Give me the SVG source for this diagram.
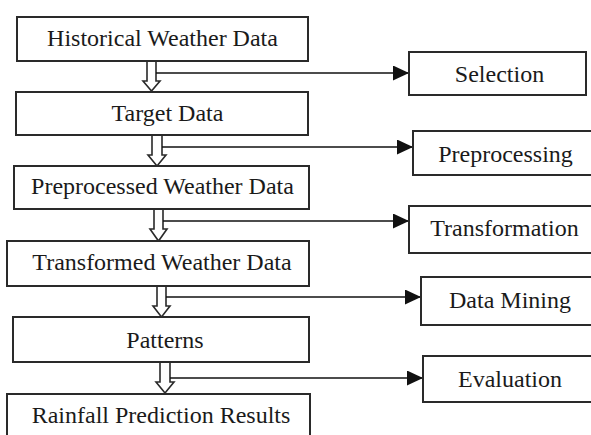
<svg xmlns="http://www.w3.org/2000/svg" width="591" height="435" viewBox="0 0 591 435">
<defs>
<style>
.box{fill:#fff;stroke:#2a2a2a;stroke-width:2}
.t{font-family:'Liberation Serif','DejaVu Serif',serif;font-size:24px;fill:#1a1a1a;text-anchor:middle}
.ln{stroke:#111;stroke-width:1.6;fill:none}
.hol{fill:#fff;stroke:#2a2a2a;stroke-width:1.6;stroke-linejoin:miter}
</style>
<marker id="ah" markerUnits="userSpaceOnUse" markerWidth="17" markerHeight="15" refX="16" refY="7.5" orient="auto">
<path d="M0,0 L16,7.5 L0,15 Z" fill="#111"/>
</marker>
</defs>
<rect width="591" height="435" fill="#fff"/>
<g id="connectors">
<polygon class="hol" points="147,61 156,61 156,81 160,81 151.5,91 143,81 147,81"/>
<polygon class="hol" points="152,135 162,135 162,155 166,155 157,166 148,155 152,155"/>
<polygon class="hol" points="154,209 163,209 163,229 167,229 158.5,241 150,229 154,229"/>
<polygon class="hol" points="157,286 166,286 166,306 170,306 161.5,317 153,306 157,306"/>
<polygon class="hol" points="160,362 170,362 170,382 174,382 165,393 156,382 160,382"/>
<line class="ln" x1="156" y1="73" x2="409" y2="73" marker-end="url(#ah)"/>
<line class="ln" x1="162" y1="147" x2="413" y2="147" marker-end="url(#ah)"/>
<line class="ln" x1="163" y1="221" x2="409" y2="221" marker-end="url(#ah)"/>
<line class="ln" x1="166" y1="297" x2="421" y2="297" marker-end="url(#ah)"/>
<line class="ln" x1="170" y1="378" x2="423" y2="378" marker-end="url(#ah)"/>
</g>
<g id="historical"><rect class="box" x="17" y="17" width="291" height="44"/><text class="t" x="162.5" y="46">Historical Weather Data</text></g>
<g id="target"><rect class="box" x="16" y="92" width="292" height="43"/><text class="t" x="167.5" y="121">Target Data</text></g>
<g id="preprocessed"><rect class="box" x="14" y="166" width="295" height="43"/><text class="t" x="162.5" y="194">Preprocessed Weather Data</text></g>
<g id="transformed"><rect class="box" x="7" y="241" width="302" height="45"/><text class="t" x="162" y="270">Transformed Weather Data</text></g>
<g id="patterns"><rect class="box" x="13" y="317" width="296" height="45"/><text class="t" x="165" y="348">Patterns</text></g>
<g id="rainfall"><rect class="box" x="7" y="394" width="303" height="50"/><text class="t" x="161" y="423">Rainfall Prediction Results</text></g>
<g id="selection"><rect class="box" x="409" y="52" width="177" height="43"/><text class="t" x="499.5" y="82">Selection</text></g>
<g id="preprocessing"><rect class="box" x="413" y="131" width="190" height="44"/><text class="t" x="505.5" y="162">Preprocessing</text></g>
<g id="transformation"><rect class="box" x="409" y="206" width="194" height="47"/><text class="t" x="504.5" y="236">Transformation</text></g>
<g id="datamining"><rect class="box" x="421" y="277" width="182" height="48"/><text class="t" x="510" y="308">Data Mining</text></g>
<g id="evaluation"><rect class="box" x="423" y="356" width="180" height="46"/><text class="t" x="510" y="387">Evaluation</text></g>
</svg>
